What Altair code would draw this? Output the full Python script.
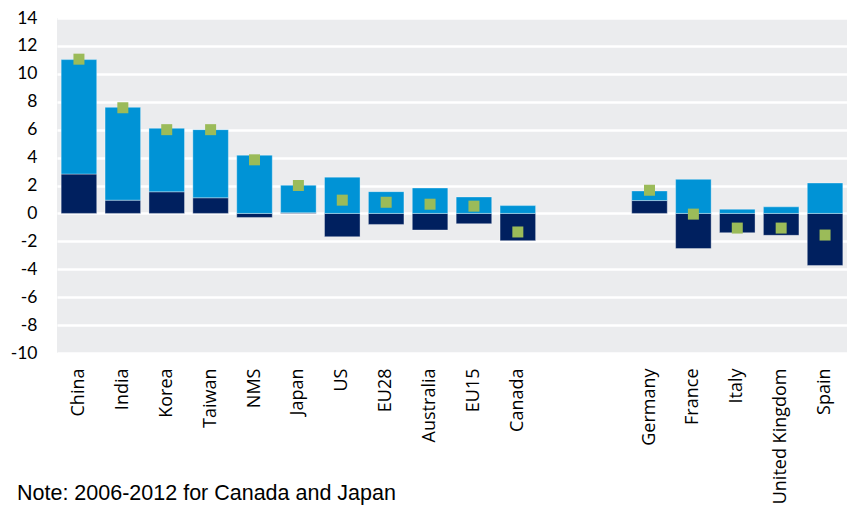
import altair as alt
import pandas as pd

categories = ["China", "India", "Korea", "Taiwan", "NMS", "Japan", "US", "EU28",
              "Australia", "EU15", "Canada", "Germany", "France", "Italy",
              "United Kingdom", "Spain"]
dark_values = [2.82, 0.95, 1.55, 1.12, -0.29, 0.05, -1.67, -0.79, -1.19, -0.74,
               -1.95, 0.92, -2.52, -1.38, -1.57, -3.73]
light_values = [8.20, 6.65, 4.55, 4.88, 4.17, 1.97, 2.60, 1.56, 1.82, 1.18,
                0.56, 0.69, 2.44, 0.30, 0.47, 2.18]
total_values = [11.05, 7.57, 6.00, 6.00, 3.84, 2.00, 0.95, 0.80, 0.66, 0.52,
                -1.33, 1.66, -0.05, -1.05, -1.05, -1.55]
gap_slots = [" ", "  "]
y_ticks = list(range(-10, 15, 2))
note_text = "Note: 2006-2012 for Canada and Japan"

domain = categories[:11] + gap_slots + categories[11:]

rows = []
for c, d, l in zip(categories, dark_values, light_values):
    rows.append({"cat": c, "part": "dark", "val": d, "ord": 0})
    rows.append({"cat": c, "part": "light", "val": l, "ord": 1})
bars_df = pd.DataFrame(rows)
tot_df = pd.DataFrame({"cat": categories, "total": total_values})
note_df = pd.DataFrame({"t": [note_text]})

xscale = alt.Scale(domain=domain, paddingInner=0.19, paddingOuter=0.095)
yscale = alt.Scale(domain=[-10, 14], nice=False, zero=False)

xaxis = alt.Axis(title=None, labelAngle=-90, domain=False, ticks=False,
                 labelFont="Open Sans", labelFontSize=18,
                 labelColor="#000000", labelPadding=15, grid=False,
                 labelOverlap=False)
yaxis = alt.Axis(title=None, values=y_ticks, tickCount=len(y_ticks), domain=False,
                 ticks=False, grid=True, gridColor="#ffffff", gridWidth=2.5,
                 labelFont="Lato", labelFontSize=17.5, labelColor="#000000",
                 labelPadding=20, labelOverlap=False,
                 labelExpr="toString(datum.value)")

bars = alt.Chart(bars_df).mark_bar(stroke="#ffffff", strokeOpacity=0.35, strokeWidth=1).encode(
    x=alt.X("cat:N", scale=xscale, sort=domain, axis=xaxis),
    y=alt.Y("val:Q", stack="zero", scale=yscale, axis=yaxis),
    color=alt.Color("part:N", scale=alt.Scale(domain=["dark", "light"],
                                              range=["#00205f", "#0093d6"]), legend=None),
    order=alt.Order("ord:Q", sort="ascending"),
)

squares = alt.Chart(tot_df).mark_square(size=121, color="#9bbb59", opacity=1).encode(
    x=alt.X("cat:N", scale=xscale, sort=domain, axis=xaxis),
    y=alt.Y("total:Q", scale=yscale, axis=yaxis),
)

note = alt.Chart(note_df).mark_text(align="left", baseline="alphabetic",
                                    font="Liberation Sans", fontSize=21.5,
                                    color="#000000").encode(
    x=alt.value(-40), y=alt.value(482), text="t:N")

chart = alt.layer(bars, squares, note).properties(
    width=790, height=335,
    padding={"left": 49, "top": 10, "right": 0, "bottom": 163},
    autosize=alt.AutoSizeParams(type="none"),
    background="#ffffff",
).configure_view(fill="#ebecee", stroke=None)

chart.save("out.html", embed_options={"renderer": "svg", "actions": False})
